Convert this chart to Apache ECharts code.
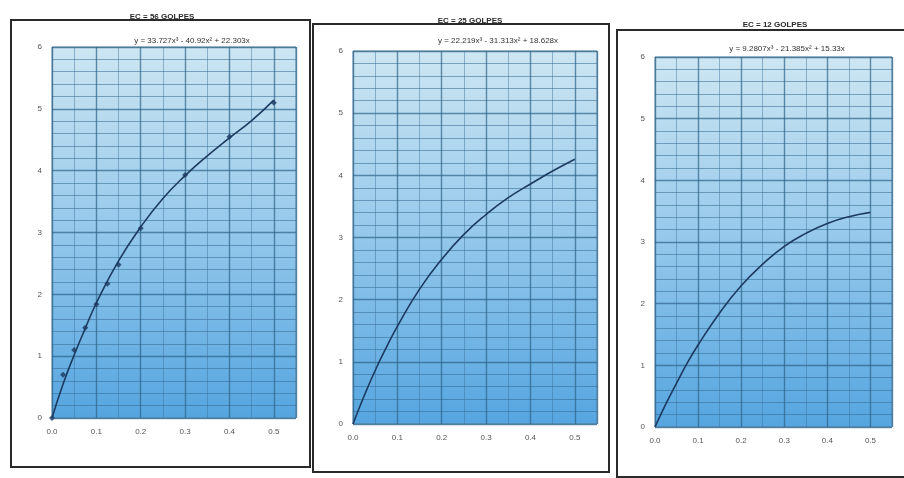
<!DOCTYPE html>
<html>
<head>
<meta charset="utf-8">
<script src="https://cdn.jsdelivr.net/npm/echarts@6/dist/echarts.min.js"></script>
<style>
  html, body { margin: 0; padding: 0; background: #fff; }
  #chart { width: 904px; height: 478px; }
</style>
</head>
<body>
<div id="chart"></div>
<script>
// Panel titles and fitted equations
const titles = ['EC = 56 GOLPES', 'EC = 25 GOLPES', 'EC = 12 GOLPES'];
const equations = [
  'y = 33.727x³ - 40.92x² + 22.303x',
  'y = 22.219x³ - 31.313x² + 18.628x',
  'y = 9.2807x³ - 21.385x² + 15.33x'
];
const xTicks = ['0.0', '0.1', '0.2', '0.3', '0.4', '0.5'];
const yTicks = ['0', '1', '2', '3', '4', '5', '6'];

// Measured points, 56 blows
const pts56X = [0, 0.025, 0.05, 0.075, 0.1, 0.125, 0.15, 0.2, 0.3, 0.4, 0.5];
const pts56Y = [0, 0.70, 1.10, 1.46, 1.84, 2.17, 2.48, 3.07, 3.93, 4.55, 5.10];

// Trend curves (x positions shared)
const curveX = [0, 0.025, 0.05, 0.075, 0.1, 0.15, 0.2, 0.25, 0.3, 0.35, 0.4, 0.45, 0.5];
const curve56 = [0, 0.55, 1.02, 1.45, 1.86, 2.54, 3.09, 3.55, 3.92, 4.24, 4.53, 4.81, 5.14];
const curve25 = [0, 0.45, 0.86, 1.23, 1.57, 2.17, 2.65, 3.05, 3.37, 3.64, 3.86, 4.07, 4.26];
const curve12 = [0, 0.37, 0.71, 1.04, 1.33, 1.85, 2.29, 2.64, 2.93, 3.14, 3.30, 3.41, 3.48];

const curves = [curve56, curve25, curve12];

const chart = echarts.init(document.getElementById('chart'));

const grids = [
  { left: 52, top: 47, width: 244, height: 371 },
  { left: 353, top: 51, width: 244, height: 373 },
  { left: 655, top: 57, width: 237, height: 370 }
];

const plotFill = new echarts.graphic.LinearGradient(0, 0, 0, 1, [
  { offset: 0, color: '#cde6f2' },
  { offset: 0.45, color: '#9acbec' },
  { offset: 1, color: '#55a5e0' }
]);

const gridOpts = grids.map(g => Object.assign({
  show: true,
  backgroundColor: plotFill,
  borderColor: '#5f87a6',
  borderWidth: 1
}, g));

const xAxes = grids.map((g, i) => ({
  gridIndex: i,
  type: 'value',
  min: 0,
  max: 0.55,
  interval: 0.1,
  axisLine: { show: false },
  axisTick: { show: false },
  axisLabel: {
    color: '#555',
    fontSize: 8,
    fontFamily: 'Liberation Sans',
    margin: 10,
    formatter: v => {
      const k = Math.round(v * 10);
      return k <= 5 ? xTicks[k] : '';
    }
  },
  splitLine: { show: true, lineStyle: { color: '#2c6288', width: 1.4, opacity: 0.7 } },
  minorTick: { show: false, splitNumber: 2 },
  minorSplitLine: { show: true, lineStyle: { color: '#3a6f96', width: 1, opacity: 0.45 } }
}));

const yAxes = grids.map((g, i) => ({
  gridIndex: i,
  type: 'value',
  min: 0,
  max: 6,
  interval: 1,
  axisLine: { show: false },
  axisTick: { show: false },
  axisLabel: {
    color: '#555',
    fontSize: 8,
    fontFamily: 'Liberation Sans',
    margin: 10,
    formatter: v => yTicks[Math.round(v)]
  },
  splitLine: { show: true, lineStyle: { color: '#2c6288', width: 1.3, opacity: 0.7 } },
  minorTick: { show: false, splitNumber: 5 },
  minorSplitLine: { show: true, lineStyle: { color: '#35698f', width: 1.2, opacity: 0.55 } }
}));

const series = curves.map((c, i) => ({
  type: 'line',
  xAxisIndex: i,
  yAxisIndex: i,
  data: curveX.map((x, k) => [x, c[k]]),
  smooth: true,
  showSymbol: false,
  lineStyle: { color: '#1d3a60', width: 1.6 },
  silent: true,
  z: 3
}));

series.push({
  type: 'scatter',
  xAxisIndex: 0,
  yAxisIndex: 0,
  data: pts56X.map((x, k) => [x, pts56Y[k]]),
  symbol: 'diamond',
  symbolSize: 6,
  itemStyle: { color: '#1b3860' },
  z: 4
});

// Panel frames (thick dark borders around each chart)
const frames = [
  { x: 11, y: 20, w: 299, h: 447 },
  { x: 313, y: 24, w: 296, h: 448 },
  { x: 617, y: 30, w: 290, h: 447 }
];

const graphics = frames.map(f => ({
  type: 'rect',
  shape: { x: f.x, y: f.y, width: f.w, height: f.h },
  style: { fill: 'none', stroke: '#2a2a2a', lineWidth: 2 },
  z: 0
}));

const titleOpts = [];
const titlePos = [[157, 8], [465, 12], [770, 16]];
const eqPos = [[187, 32], [493, 32], [782, 40]];
titles.forEach((t, i) => {
  titleOpts.push({
    text: t,
    left: titlePos[i][0],
    top: titlePos[i][1],
    textAlign: 'center',
    textStyle: { fontSize: 8, fontWeight: 'bold', color: '#2a2a2a', fontFamily: 'Liberation Sans' }
  });
  titleOpts.push({
    text: equations[i],
    left: eqPos[i][0],
    top: eqPos[i][1],
    textAlign: 'center',
    textStyle: { fontSize: 8, fontWeight: 'normal', color: '#333', fontFamily: 'Liberation Sans' }
  });
});

chart.setOption({
  animation: false,
  backgroundColor: '#ffffff',
  title: titleOpts,
  grid: gridOpts,
  xAxis: xAxes,
  yAxis: yAxes,
  series: series,
  graphic: graphics
});
</script>
</body>
</html>
